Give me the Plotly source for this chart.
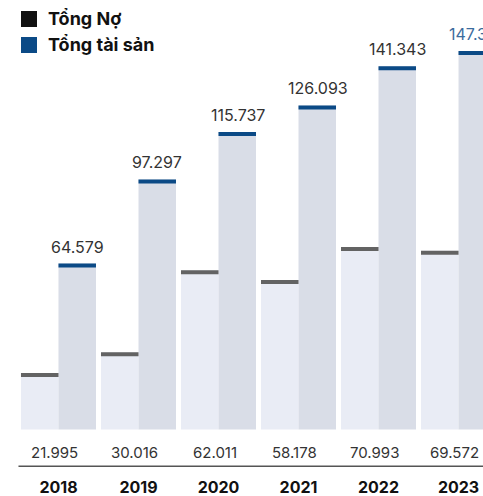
import plotly.graph_objects as go

years = ["2018", "2019", "2020", "2021", "2022", "2023"]
tong_no = [21995, 30016, 62011, 58178, 70993, 69572]
tong_tai_san = [64579, 97297, 115737, 126093, 141343, 147322]

name_no = "Tổng Nợ"
name_ts = "Tổng tài sản"

FONT = "Inter"
COL_NO_BODY = "#e9ecf5"
COL_TS_BODY = "#d9dde7"
COL_NO_CAP = "#636363"
COL_TS_CAP = "#0b4a86"
CAP = 1560


def fmt(v):
    return f"{v:,}".replace(",", ".")


fig = go.Figure()
fig.add_trace(go.Bar(x=years, y=tong_no, offsetgroup="no", marker=dict(color=COL_NO_BODY, line=dict(width=0)),
                     name=name_no, showlegend=False, hoverinfo="skip"))
fig.add_trace(go.Bar(x=years, y=tong_tai_san, offsetgroup="ts", marker=dict(color=COL_TS_BODY, line=dict(width=0)),
                     name=name_ts, showlegend=False, hoverinfo="skip"))
fig.add_trace(go.Bar(x=years, y=[CAP] * len(years), base=[v - CAP for v in tong_no], offsetgroup="no",
                     marker=dict(color=COL_NO_CAP, line=dict(width=0)), showlegend=False, hoverinfo="skip"))
fig.add_trace(go.Bar(x=years, y=[CAP] * len(years), base=[v - CAP for v in tong_tai_san], offsetgroup="ts",
                     marker=dict(color=COL_TS_CAP, line=dict(width=0)), showlegend=False, hoverinfo="skip"))

annotations = []
for i, (yr, n, t) in enumerate(zip(years, tong_no, tong_tai_san)):
    last = i == len(years) - 1
    annotations.append(dict(x=i, y=t, xref="x", yref="y", text=fmt(t), showarrow=False,
                            xshift=19, yshift=17, yanchor="middle",
                            font=dict(family=FONT, size=16, color="#3b6c9e" if last else "#333333")))
    annotations.append(dict(x=i, y=0, xref="x", yref="y", text=fmt(n), showarrow=False,
                            xshift=-4, yshift=-23, yanchor="middle",
                            font=dict(family=FONT, size=15, color="#333333")))

# legend
legend_items = [(name_no, "#111111", 19), (name_ts, COL_TS_CAP, 45)]
W, H_PLOT = 483, 467
shapes = []
for label, col, cy in legend_items:
    shapes.append(dict(type="rect", xref="paper", yref="paper",
                       x0=21 / W, x1=37 / W, y0=(H_PLOT - (cy - 8)) / H_PLOT, y1=(H_PLOT - (cy + 8)) / H_PLOT,
                       fillcolor=col, line=dict(width=0)))
    annotations.append(dict(x=46 / W, y=(H_PLOT - cy) / H_PLOT, xref="paper", yref="paper", text=f"<b>{label}</b>",
                            showarrow=False, xanchor="left", yanchor="middle",
                            font=dict(family=FONT, size=18, color="#111111")))

YMIN, YMAX = -14590, 167120
shapes.append(dict(type="line", xref="x", yref="y", x0=-0.5, x1=5.306, y0=YMIN, y1=YMIN,
                   line=dict(color="#555555", width=3)))

fig.update_layout(
    width=483, height=496,
    margin=dict(l=0, r=0, t=0, b=29),
    barmode="group", bargap=0.0625, bargroupgap=0,
    plot_bgcolor="white", paper_bgcolor="white",
    showlegend=False,
    xaxis=dict(type="category", range=[-0.731, 5.306], showgrid=False, showline=False, zeroline=False,
               ticks="", tickfont=dict(family=FONT, size=16, color="#111111"), ticklabelstandoff=9,
               tickvals=years, ticktext=[f"<b>{y}</b>" for y in years]),
    yaxis=dict(range=[YMIN, YMAX], visible=False, showgrid=False, zeroline=False),
    annotations=annotations,
    shapes=shapes,
)

fig.write_html("out.html")
